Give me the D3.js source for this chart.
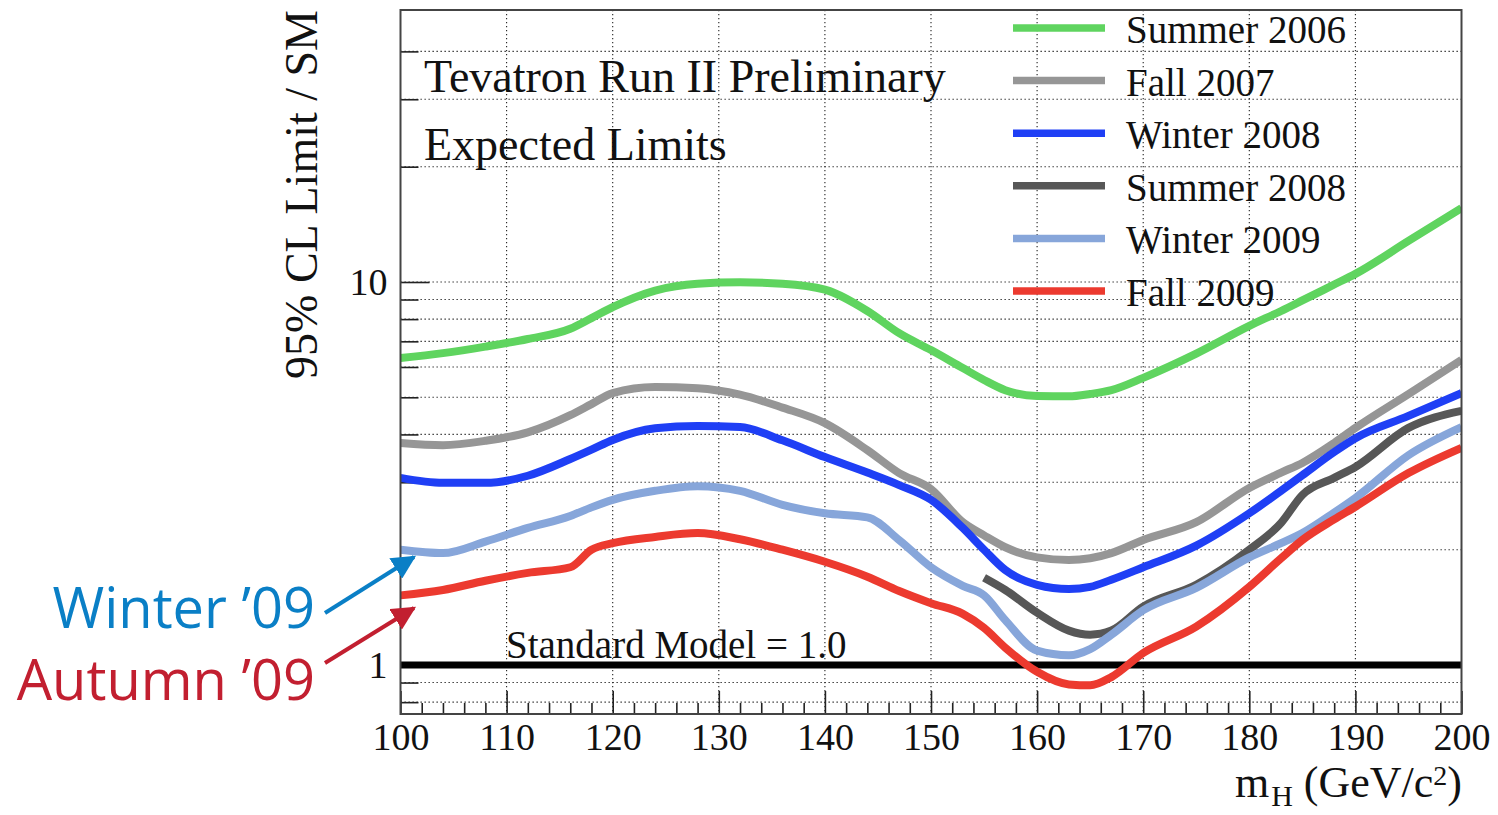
<!DOCTYPE html>
<html><head><meta charset="utf-8">
<script src="https://cdn.jsdelivr.net/npm/d3@7"></script>
<style>body{margin:0;background:#fff;} svg{display:block;}</style>
</head><body>
<svg id="chart" width="1498" height="815"></svg>
<script>
// ---------------- data ----------------
const masses      = [100,104,108,112,116,118,120,124,128,132,136,140,144,147,150,153,155,157,160,163,165,167,170,175,180,183,185,188,190,195,200];
const summer2006  = [6.33,6.52,6.78,7.10,7.55,8.05,8.60,9.50,9.90,9.98,9.90,9.55,8.40,7.35,6.64,5.96,5.55,5.22,5.04,5.03,5.10,5.22,5.62,6.50,7.68,8.40,8.95,9.85,10.5,12.8,15.6];
const fall2007    = [3.80,3.75,3.85,4.05,4.49,4.80,5.13,5.32,5.28,5.08,4.70,4.28,3.64,3.17,2.88,2.36,2.18,2.03,1.91,1.88,1.90,1.96,2.12,2.36,2.90,3.18,3.37,3.80,4.16,5.10,6.26];
const winter2008  = [3.08,2.99,2.99,3.12,3.45,3.65,3.87,4.15,4.21,4.18,3.86,3.49,3.18,2.95,2.70,2.28,2.00,1.77,1.62,1.58,1.60,1.67,1.80,2.05,2.49,2.85,3.13,3.60,3.91,4.47,5.13];
const summer2008  = [null,null,null,null,null,null,null,null,null,null,null,null,null,null,null,null,1.69,1.57,1.37,1.23,1.20,1.23,1.42,1.62,2.00,2.35,2.78,3.08,3.29,4.16,4.61];
const winter2009  = [2.00,1.96,2.10,2.28,2.45,2.58,2.70,2.85,2.93,2.85,2.62,2.49,2.43,2.12,1.80,1.61,1.52,1.31,1.09,1.06,1.10,1.20,1.39,1.59,1.91,2.08,2.21,2.50,2.73,3.53,4.18];
const fall2009    = [1.52,1.57,1.66,1.74,1.80,2.00,2.08,2.16,2.21,2.13,2.00,1.86,1.70,1.56,1.45,1.36,1.25,1.11,0.96,0.89,0.885,0.93,1.075,1.26,1.60,1.90,2.12,2.40,2.59,3.17,3.69];

const seriesNames  = ["Summer 2006","Fall 2007","Winter 2008","Summer 2008","Winter 2009","Fall 2009"];
const seriesValues = [summer2006, fall2007, winter2008, summer2008, winter2009, fall2009];
const seriesColors = ["#5fd45f","#969696","#1f3ff5","#575757","#87a6da","#ec3a2f"];

const xMajorTicks = [100,110,120,130,140,150,160,170,180,190,200];
const xMinorTicks = d3.range(100,201,2).filter(v => v % 10 !== 0);
const yMajorTicks = [1,10];
const yMinorTicks = [0.8,0.9,2,3,4,5,6,7,8,9,20,30,40];
const smLevel = 1.0;

// ---------------- layout ----------------
const svg = d3.select("#chart");
const L = 400.5, R = 1461.5, T = 10, B = 714;
const x = d3.scaleLinear().domain([100,200]).range([L,R]);
const y = d3.scaleLog().domain([0.745,51.3]).range([B,T]);
const serif = "'Liberation Serif','Times New Roman',serif";
const sans = "'Open Sans','Noto Sans',sans-serif";

const defs = svg.append("defs");
defs.append("clipPath").attr("id","clip")
  .append("rect").attr("x",L).attr("y",T).attr("width",R-L).attr("height",B-T);

// grid
const grid = svg.append("g").attr("stroke","#222").attr("stroke-width",1.1).attr("stroke-dasharray","1.3,2.7");
grid.selectAll(".gx").data(xMajorTicks.slice(1,-1)).join("line")
  .attr("x1",d=>x(d)).attr("x2",d=>x(d)).attr("y1",T).attr("y2",B);
grid.selectAll(".gy").data(yMinorTicks.concat(yMajorTicks)).join("line")
  .attr("x1",L).attr("x2",R).attr("y1",d=>y(d)).attr("y2",d=>y(d));

// axes (ticks inward)
function styleAxis(g){ g.select(".domain").remove(); g.selectAll("line").attr("stroke","#222").attr("stroke-width",1.6); }
svg.append("g").attr("transform",`translate(0,${B})`)
  .call(d3.axisBottom(x).tickValues(xMinorTicks).tickSize(-11).tickFormat(""))
  .call(styleAxis);
svg.append("g").attr("transform",`translate(0,${B})`)
  .call(d3.axisBottom(x).tickValues(xMajorTicks).tickSize(-23).tickPadding(9).tickFormat(d3.format("d")))
  .call(styleAxis)
  .call(g=>g.selectAll("text").attr("font-family",serif).attr("font-size",38).attr("fill","#111"));
svg.append("g").attr("transform",`translate(${L},0)`)
  .call(d3.axisLeft(y).tickValues(yMinorTicks).tickSize(-18).tickFormat(""))
  .call(styleAxis);
svg.append("g").attr("transform",`translate(${L},0)`)
  .call(d3.axisLeft(y).tickValues(yMajorTicks).tickSize(-29).tickPadding(13).tickFormat(d3.format("d")))
  .call(styleAxis)
  .call(g=>g.selectAll("text").attr("font-family",serif).attr("font-size",38).attr("fill","#111"));

// SM line
svg.append("line").attr("x1",L).attr("x2",R).attr("y1",y(smLevel)).attr("y2",y(smLevel))
  .attr("stroke","#000").attr("stroke-width",7);

// curves
const line = d3.line().defined(d=>d[1]!=null).x(d=>x(d[0])).y(d=>y(d[1])).curve(d3.curveMonotoneX);
const curves = svg.append("g").attr("clip-path","url(#clip)");
seriesValues.forEach((vals,i)=>{
  curves.append("path").datum(masses.map((m,j)=>[m,vals[j]]))
    .attr("d",line).attr("fill","none").attr("stroke",seriesColors[i])
    .attr("stroke-width",8).attr("stroke-linejoin","round");
});

// frame
svg.append("rect").attr("x",L).attr("y",T).attr("width",R-L).attr("height",B-T)
  .attr("fill","none").attr("stroke","#444").attr("stroke-width",2);

// legend
const leg = svg.append("g");
seriesNames.forEach((n,i)=>{
  const yy = 28 + i*52.6;
  leg.append("line").attr("x1",1013).attr("x2",1105).attr("y1",yy).attr("y2",yy)
    .attr("stroke",seriesColors[i]).attr("stroke-width",7.5);
  leg.append("text").attr("x",1126).attr("y",yy+15).text(n)
    .attr("font-family",serif).attr("font-size",39).attr("fill","#111");
});

// texts
const txt = (s,xx,yy,size)=>svg.append("text").attr("x",xx).attr("y",yy).attr("font-family",serif).attr("font-size",size).attr("fill","#111").text(s);
txt("Tevatron Run II Preliminary",424,92,46);
txt("Expected Limits",424,160,46);
txt("Standard Model = 1.0",506,658,39);

// y title
svg.append("text").attr("transform","translate(317,10) rotate(-90)").attr("text-anchor","end")
  .attr("font-family",serif).attr("font-size",46).attr("fill","#111").text("95% CL Limit / SM");

// x title
const xt = svg.append("text").attr("x",1462).attr("y",797).attr("text-anchor","end")
  .attr("font-family",serif).attr("font-size",44).attr("fill","#111");
xt.append("tspan").text("m");
xt.append("tspan").attr("font-size",30).attr("dx",2).attr("dy",9).text("H");
xt.append("tspan").attr("dy",-9).text(" (GeV/c");
xt.append("tspan").attr("font-size",28).attr("dy",-12).text("2");
xt.append("tspan").attr("dy",12).text(")");

// annotations
[["arrB","#0a7fc6"],["arrR","#c21f30"]].forEach(([id,c])=>{
  defs.append("marker").attr("id",id).attr("viewBox","0 0 10 10").attr("refX",9).attr("refY",5)
    .attr("markerWidth",6).attr("markerHeight",6).attr("markerUnits","strokeWidth").attr("orient","auto")
    .append("path").attr("d","M0,0 L10,5 L0,10 z").attr("fill",c);
});
svg.append("line").attr("x1",325).attr("y1",613).attr("x2",414).attr("y2",557)
  .attr("stroke","#0a7fc6").attr("stroke-width",4).attr("marker-end","url(#arrB)");
svg.append("line").attr("x1",325).attr("y1",663).attr("x2",414).attr("y2",608)
  .attr("stroke","#c21f30").attr("stroke-width",4).attr("marker-end","url(#arrR)");
svg.append("text").attr("x",315).attr("y",628).attr("text-anchor","end")
  .attr("font-family",sans).attr("font-size",56).attr("fill","#0a7fc6").text("Winter ’09");
svg.append("text").attr("x",315).attr("y",700).attr("text-anchor","end")
  .attr("font-family",sans).attr("font-size",56).attr("fill","#c21f30").text("Autumn ’09");
</script>
</body></html>
